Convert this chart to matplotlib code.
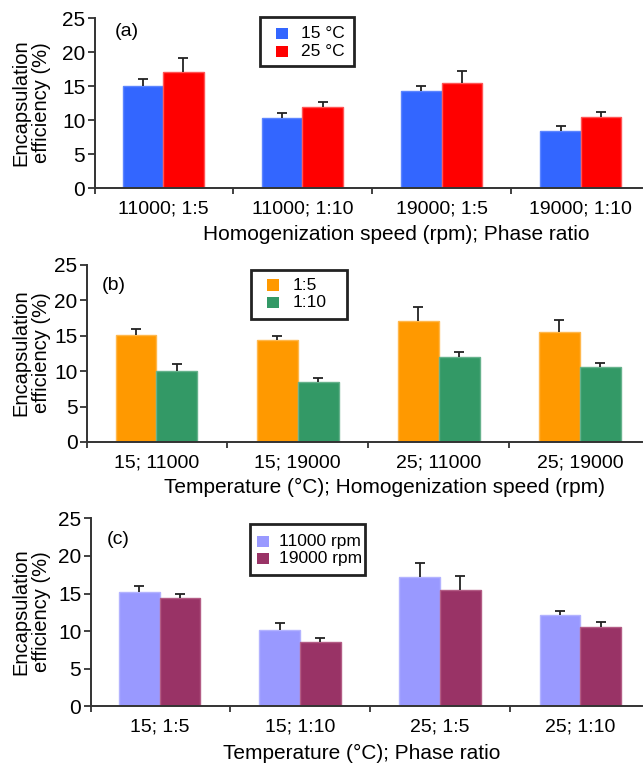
import matplotlib
matplotlib.use('Agg')
import matplotlib.pyplot as plt
from matplotlib.patches import Rectangle
import numpy as np

plt.rcParams['font.family'] = ['Liberation Sans', 'DejaVu Sans']

# ---------------- data ----------------
cats_a = ['11000; 1:5', '11000; 1:10', '19000; 1:5', '19000; 1:10']
a_15 = [15.1, 10.3, 14.3, 8.4]
a_15_sd = [0.9, 0.77, 0.8, 0.75]
a_25 = [17.05, 12.0, 15.5, 10.45]
a_25_sd = [2.15, 0.65, 1.8, 0.8]

cats_b = ['15; 11000', '15; 19000', '25; 11000', '25; 19000']
b_15 = [15.15, 14.36, 17.13, 15.5]
b_15_sd = [0.75, 0.61, 1.94, 1.77]
b_110 = [10.07, 8.43, 12.05, 10.55]
b_110_sd = [0.93, 0.65, 0.62, 0.61]

cats_c = ['15; 1:5', '15; 1:10', '25; 1:5', '25; 1:10']
c_11000 = [15.2, 10.1, 17.2, 12.1]
c_11000_sd = [0.84, 0.94, 1.9, 0.57]
c_19000 = [14.36, 8.51, 15.5, 10.6]
c_19000_sd = [0.62, 0.57, 1.8, 0.6]

yticks = [0, 5, 10, 15, 20, 25]

W, H = 643, 765
fig = plt.figure(figsize=(W / 100, H / 100), dpi=100)


def px_axes(l, r, t, b):
    return fig.add_axes([l / W, 1 - b / H, (r - l) / W, (b - t) / H])


def px_rect(l, t, r, b, **kw):
    fig.add_artist(Rectangle((l / W, 1 - b / H), (r - l) / W, (b - t) / H,
                             transform=fig.transFigure, **kw))


panels = [
    dict(box=(95, 642, 18.3, 188.3), cats=cats_a,
         s1=a_15, e1=a_15_sd, s2=a_25, e2=a_25_sd,
         c1='#3366FF', ec1='#5C85FF', c2='#FF0000', ec2='#FF5555',
         l1='15 °C', l2='25 °C', tag='(a)', tagpos=(115, 31.5),
         xlabel='Homogenization speed (rpm); Phase ratio', xlpos=(396.7, 235),
         ylpos=(31, 103),
         legbox=(259.5, 17.3, 353.5, 65.7), sqx=276, rows=(33.7, 51.3), tx=301),
    dict(box=(87.3, 642, 265, 442), cats=cats_b,
         s1=b_15, e1=b_15_sd, s2=b_110, e2=b_110_sd,
         c1='#FF9900', ec1='#FFB84D', c2='#339966', ec2='#66B28C',
         l1='1:5', l2='1:10', tag='(b)', tagpos=(102, 286),
         xlabel='Temperature (°C); Homogenization speed (rpm)', xlpos=(385, 487),
         ylpos=(31, 353),
         legbox=(250.7, 270, 347, 319), sqx=267, rows=(285, 302.5), tx=293),
    dict(box=(91, 642, 518.3, 706.3), cats=cats_c,
         s1=c_11000, e1=c_11000_sd, s2=c_19000, e2=c_19000_sd,
         c1='#9999FF', ec1='#B3B3FF', c2='#993366', ec2='#B35C85',
         l1='11000 rpm', l2='19000 rpm', tag='(c)', tagpos=(107, 540),
         xlabel='Temperature (°C); Phase ratio', xlpos=(362, 753),
         ylpos=(31, 612),
         legbox=(250.3, 524, 365.3, 575), sqx=257, rows=(541.7, 558.5), tx=279.3),
]

w = 0.29
for p in panels:
    ax = px_axes(*p['box'])
    x = np.arange(len(p['cats']))
    ek = dict(ecolor='#222222', elinewidth=1.3, capsize=3.4, capthick=1.3)
    z = np.zeros(len(x))
    b1 = ax.bar(x - w / 2, p['s1'], w, color=p['c1'], edgecolor=p['ec1'], linewidth=1.0,
                yerr=[z, p['e1']], error_kw=ek, label=p['l1'])
    b2 = ax.bar(x + w / 2, p['s2'], w, color=p['c2'], edgecolor=p['ec2'], linewidth=1.0,
                yerr=[z, p['e2']], error_kw=ek, label=p['l2'])
    for bc in (b1, b2):
        caps = bc.errorbar.lines[1]
        if len(caps) > 1:
            caps[0].set_visible(False)
    ax.set_xlim(-0.49, 3.44)
    ax.set_ylim(0, 25)
    ax.set_yticks(yticks)
    ax.tick_params(axis='y', labelsize=15, length=5, width=1.3, color='#333333', pad=2)
    ax.set_xticks([-0.49, 0.5, 1.5, 2.5])
    ax.set_xticklabels([])
    ax.tick_params(axis='x', which='major', length=4, width=1.3, color='#333333')
    ax.set_xticks(x, minor=True)
    ax.set_xticklabels(p['cats'], minor=True)
    ax.tick_params(axis='x', which='minor', length=0, labelsize=14, pad=9)
    for s in ['top', 'right']:
        ax.spines[s].set_visible(False)
    for s in ['left', 'bottom']:
        ax.spines[s].set_linewidth(1.4)
        ax.spines[s].set_color('#333333')
    ax.spines['bottom'].set_clip_on(False)

    fig.text(p['tagpos'][0] / W, 1 - p['tagpos'][1] / H, p['tag'], fontsize=14,
             ha='left', va='center')
    fig.text(p['xlpos'][0] / W, 1 - p['xlpos'][1] / H, p['xlabel'], fontsize=15,
             ha='center', va='center')
    fig.text(p['ylpos'][0] / W, 1 - p['ylpos'][1] / H, 'Encapsulation\nefficiency (%)',
             fontsize=14.5, rotation=90, ha='center', va='center',
             multialignment='center', linespacing=1.1)

    # legend (drawn by hand to match the boxed legend of the original)
    l, t, r, b = p['legbox']
    px_rect(l, t, r, b, facecolor='white', edgecolor='#222222', linewidth=2, zorder=5)
    sq = 11.5
    for yc, col, lab in zip(p['rows'], (p['c1'], p['c2']), (p['l1'], p['l2'])):
        px_rect(p['sqx'], yc - sq / 2, p['sqx'] + sq, yc + sq / 2,
                facecolor=col, edgecolor='none', zorder=6)
        fig.text(p['tx'] / W, 1 - yc / H, lab, fontsize=12.5, ha='left',
                 va='center', zorder=7)

fig.savefig('out.png', dpi=100)
